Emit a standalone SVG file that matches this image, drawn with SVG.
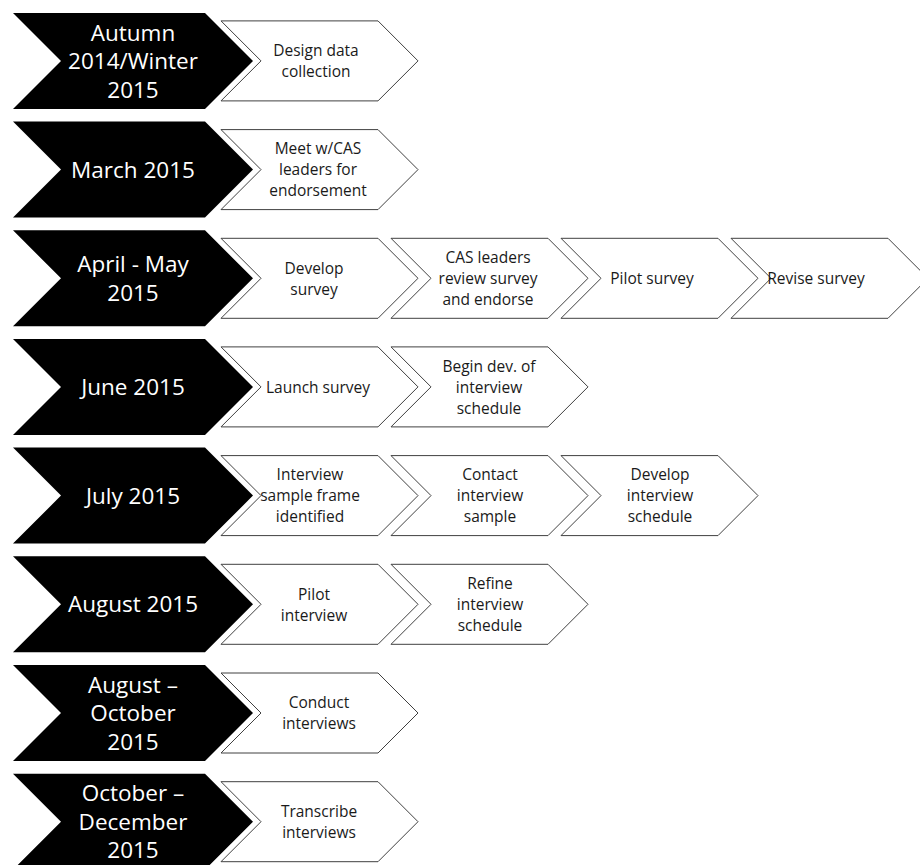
<svg xmlns="http://www.w3.org/2000/svg" xmlns:xlink="http://www.w3.org/1999/xlink" width="920" height="865" viewBox="0 0 920 865">
<style>
.bk{fill:#000000;}
.wh{fill:#ffffff;stroke:#404040;stroke-width:1;stroke-linejoin:miter;}
.tb{font-family:"Open Sans","Noto Sans","Liberation Sans",sans-serif;font-size:22.5px;fill:#ffffff;text-anchor:middle;}
.tw{font-family:"Open Sans","Noto Sans","Liberation Sans",sans-serif;font-size:15.5px;fill:#1a1a1a;text-anchor:middle;}
</style>
<defs>
<polygon id="bkc" points="13,-48 205,-48 253,0 205,48 13,48 61,0"/>
<polygon id="whc" points="0,-40 157,-40 197,0 157,40 0,40 40,0"/>
</defs>
<rect width="920" height="865" fill="#ffffff"/>
<g id="connectors"/>

<!-- Row 0 -->
<g id="r0-date"><use xlink:href="#bkc" href="#bkc" x="0" y="60.9" class="bk"/>
<text class="tb" x="133" y="40.5">Autumn</text><text class="tb" x="133" y="69">2014/Winter</text><text class="tb" x="133" y="97.5">2015</text></g>
<g id="r0-t1"><use xlink:href="#whc" href="#whc" x="221" y="60.9" class="wh"/>
<text class="tw" x="316" y="56.2">Design data</text><text class="tw" x="316" y="77.2">collection</text></g>

<!-- Row 1 -->
<g id="r1-date"><use xlink:href="#bkc" href="#bkc" x="0" y="169.6" class="bk"/>
<text class="tb" x="133" y="177.7">March 2015</text></g>
<g id="r1-t1"><use xlink:href="#whc" href="#whc" x="221" y="169.6" class="wh"/>
<text class="tw" x="318" y="154.4">Meet w/CAS</text><text class="tw" x="318" y="175.4">leaders for</text><text class="tw" x="318" y="196.4">endorsement</text></g>

<!-- Row 2 -->
<g id="r2-date"><use xlink:href="#bkc" href="#bkc" x="0" y="278.3" class="bk"/>
<text class="tb" x="133" y="272.2">April - May</text><text class="tb" x="133" y="300.7">2015</text></g>
<g id="r2-t1"><use xlink:href="#whc" href="#whc" x="221" y="278.3" class="wh"/>
<text class="tw" x="314" y="273.6">Develop</text><text class="tw" x="314" y="294.6">survey</text></g>
<g id="r2-t2"><use xlink:href="#whc" href="#whc" x="391" y="278.3" class="wh"/>
<text class="tw" x="488" y="263.1">CAS leaders</text><text class="tw" x="488" y="284.1">review survey</text><text class="tw" x="488" y="305.1">and endorse</text></g>
<g id="r2-t3"><use xlink:href="#whc" href="#whc" x="561" y="278.3" class="wh"/>
<text class="tw" x="652" y="284.1">Pilot survey</text></g>
<g id="r2-t4"><use xlink:href="#whc" href="#whc" x="731" y="278.3" class="wh"/>
<text class="tw" x="816" y="284.1">Revise survey</text></g>

<!-- Row 3 -->
<g id="r3-date"><use xlink:href="#bkc" href="#bkc" x="0" y="386.9" class="bk"/>
<text class="tb" x="133" y="395">June 2015</text></g>
<g id="r3-t1"><use xlink:href="#whc" href="#whc" x="221" y="386.9" class="wh"/>
<text class="tw" x="318" y="392.7">Launch survey</text></g>
<g id="r3-t2"><use xlink:href="#whc" href="#whc" x="391" y="386.9" class="wh"/>
<text class="tw" x="489" y="371.7">Begin dev. of</text><text class="tw" x="489" y="392.7">interview</text><text class="tw" x="489" y="413.7">schedule</text></g>

<!-- Row 4 -->
<g id="r4-date"><use xlink:href="#bkc" href="#bkc" x="0" y="495.6" class="bk"/>
<text class="tb" x="133" y="503.7">July 2015</text></g>
<g id="r4-t1"><use xlink:href="#whc" href="#whc" x="221" y="495.6" class="wh"/>
<text class="tw" x="310" y="480.4">Interview</text><text class="tw" x="310" y="501.4">sample frame</text><text class="tw" x="310" y="522.4">identified</text></g>
<g id="r4-t2"><use xlink:href="#whc" href="#whc" x="391" y="495.6" class="wh"/>
<text class="tw" x="490" y="480.4">Contact</text><text class="tw" x="490" y="501.4">interview</text><text class="tw" x="490" y="522.4">sample</text></g>
<g id="r4-t3"><use xlink:href="#whc" href="#whc" x="561" y="495.6" class="wh"/>
<text class="tw" x="660" y="480.4">Develop</text><text class="tw" x="660" y="501.4">interview</text><text class="tw" x="660" y="522.4">schedule</text></g>

<!-- Row 5 -->
<g id="r5-date"><use xlink:href="#bkc" href="#bkc" x="0" y="604.3" class="bk"/>
<text class="tb" x="133" y="612.4">August 2015</text></g>
<g id="r5-t1"><use xlink:href="#whc" href="#whc" x="221" y="604.3" class="wh"/>
<text class="tw" x="314" y="599.6">Pilot</text><text class="tw" x="314" y="620.6">interview</text></g>
<g id="r5-t2"><use xlink:href="#whc" href="#whc" x="391" y="604.3" class="wh"/>
<text class="tw" x="490" y="589.1">Refine</text><text class="tw" x="490" y="610.1">interview</text><text class="tw" x="490" y="631.1">schedule</text></g>

<!-- Row 6 -->
<g id="r6-date"><use xlink:href="#bkc" href="#bkc" x="0" y="713" class="bk"/>
<text class="tb" x="133" y="692.6">August –</text><text class="tb" x="133" y="721.1">October</text><text class="tb" x="133" y="749.6">2015</text></g>
<g id="r6-t1"><use xlink:href="#whc" href="#whc" x="221" y="713" class="wh"/>
<text class="tw" x="319" y="708.3">Conduct</text><text class="tw" x="319" y="729.3">interviews</text></g>

<!-- Row 7 -->
<g id="r7-date"><use xlink:href="#bkc" href="#bkc" x="0" y="821.7" class="bk"/>
<text class="tb" x="133" y="801.3">October –</text><text class="tb" x="133" y="829.8">December</text><text class="tb" x="133" y="858.3">2015</text></g>
<g id="r7-t1"><use xlink:href="#whc" href="#whc" x="221" y="821.7" class="wh"/>
<text class="tw" x="319" y="817">Transcribe</text><text class="tw" x="319" y="838">interviews</text></g>
</svg>
